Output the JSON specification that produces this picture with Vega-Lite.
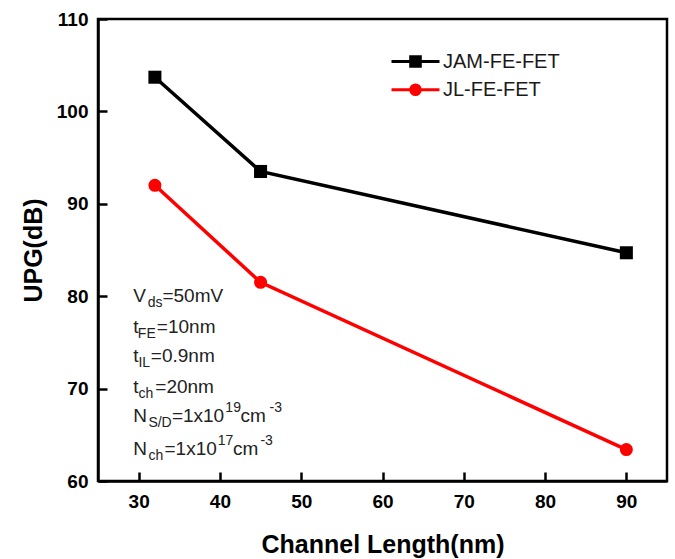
{
  "$schema": "https://vega.github.io/schema/vega-lite/v6.json",
  "width": 569,
  "height": 462,
  "autosize": {"type": "none"},
  "padding": {"left": 98, "top": 19, "right": 8, "bottom": 78},
  "background": "white",
  "config": {
    "view": {"stroke": "black", "strokeWidth": 2.5},
    "axis": {
      "domainColor": "black", "domainWidth": 2.5,
      "tickColor": "black", "tickWidth": 2.5, "tickSize": -9,
      "labelFont": "Liberation Sans", "labelFontWeight": "bold", "labelFontSize": 19, "labelColor": "black",
      "labelFlush": false, "labelOverlap": false,
      "titleFont": "Liberation Sans", "titleFontWeight": "bold", "titleFontSize": 25, "titleColor": "black",
      "grid": false
    },
    "axisX": {"labelPadding": 20, "titlePadding": 21},
    "axisY": {"labelPadding": 19, "titlePadding": 10},
    "legend": {
      "orient": "none", "legendX": 292, "legendY": 29.5, "title": null, "padding": 0,
      "labelFont": "Liberation Sans", "labelFontSize": 20, "labelColor": "#1a1a1a",
      "symbolSize": 2304, "symbolStrokeWidth": 3, "labelOffset": 2,
      "clipHeight": 26, "rowPadding": 2.3
    }
  },
  "datasets": {
    "upg": [
      {"series": "JAM-FE-FET", "L": 32, "UPG": 103.7},
      {"series": "JAM-FE-FET", "L": 45, "UPG": 93.5},
      {"series": "JAM-FE-FET", "L": 90, "UPG": 84.7},
      {"series": "JL-FE-FET", "L": 32, "UPG": 92.0},
      {"series": "JL-FE-FET", "L": 45, "UPG": 81.5},
      {"series": "JL-FE-FET", "L": 90, "UPG": 63.4}
    ],
    "notes": [
      {"txt": "V", "kind": "main", "x": 29.35, "y": 80.0},
      {"txt": "ds", "kind": "sub", "x": 31.13, "y": 80.0},
      {"txt": "=50mV", "kind": "main", "x": 32.93, "y": 80.0},
      {"txt": "t", "kind": "main", "x": 29.35, "y": 76.7},
      {"txt": "FE", "kind": "sub", "x": 29.9, "y": 76.7},
      {"txt": "=10nm", "kind": "main", "x": 32.24, "y": 76.7},
      {"txt": "t", "kind": "main", "x": 29.35, "y": 73.5},
      {"txt": "IL", "kind": "sub", "x": 29.97, "y": 73.5},
      {"txt": "=0.9nm", "kind": "main", "x": 31.5, "y": 73.5},
      {"txt": "t", "kind": "main", "x": 29.35, "y": 70.2},
      {"txt": "ch", "kind": "sub", "x": 29.97, "y": 70.2},
      {"txt": "=20nm", "kind": "main", "x": 32.05, "y": 70.2},
      {"txt": "N", "kind": "main", "x": 29.35, "y": 67.0},
      {"txt": "S/D", "kind": "sub", "x": 31.2, "y": 67.0},
      {"txt": "=1x10", "kind": "main", "x": 34.09, "y": 67.0},
      {"txt": "19", "kind": "sup", "x": 40.67, "y": 67.0},
      {"txt": "cm", "kind": "main", "x": 42.52, "y": 67.0},
      {"txt": "-3", "kind": "sup", "x": 46.1, "y": 67.0},
      {"txt": "N", "kind": "main", "x": 29.35, "y": 63.5},
      {"txt": "ch", "kind": "sub", "x": 31.2, "y": 63.5},
      {"txt": "=1x10", "kind": "main", "x": 33.18, "y": 63.5},
      {"txt": "17", "kind": "sup", "x": 39.72, "y": 63.5},
      {"txt": "cm", "kind": "main", "x": 41.6, "y": 63.5},
      {"txt": "-3", "kind": "sup", "x": 44.98, "y": 63.5}
    ]
  },
  "layer": [
    {
      "data": {"name": "upg"},
      "mark": {"type": "line", "strokeWidth": 3.5},
      "encoding": {
        "x": {"field": "L", "type": "quantitative", "title": "Channel Length(nm)", "scale": {"domain": [25, 95], "nice": false, "zero": false}, "axis": {"values": [30, 40, 50, 60, 70, 80, 90]}},
        "y": {"field": "UPG", "type": "quantitative", "title": "UPG(dB)", "scale": {"domain": [60, 110], "nice": false, "zero": false}, "axis": {"values": [60, 70, 80, 90, 100, 110]}},
        "color": {
          "field": "series", "type": "nominal", "title": null,
          "scale": {"domain": ["JAM-FE-FET", "JL-FE-FET"], "range": ["#000000", "#ff0000"]},
          "legend": {
            "encode": {
              "symbols": {
                "update": {
                  "shape": {"signal": "datum.value === 'JAM-FE-FET' ? 'M-1,0H1M-0.2,-0.2H0.2V0.2H-0.2Z' : 'M-1,0H1M0.2,0A0.2,0.2 0 1,1 -0.2,0A0.2,0.2 0 1,1 0.2,0Z'"},
                  "stroke": {"signal": "datum.value === 'JAM-FE-FET' ? '#000000' : '#ff0000'"},
                  "fill": {"signal": "datum.value === 'JAM-FE-FET' ? '#000000' : '#ff0000'"},
                  "strokeWidth": {"value": 3},
                  "opacity": {"value": 1}
                }
              }
            }
          }
        }
      }
    },
    {
      "data": {"name": "upg"},
      "transform": [{"filter": "datum.series === 'JAM-FE-FET'"}],
      "mark": {"type": "point", "shape": "square", "filled": true, "opacity": 1, "size": 170},
      "encoding": {
        "x": {"field": "L", "type": "quantitative", "title": "Channel Length(nm)", "scale": {"domain": [25, 95], "nice": false, "zero": false}},
        "y": {"field": "UPG", "type": "quantitative", "title": "UPG(dB)", "scale": {"domain": [60, 110], "nice": false, "zero": false}},
        "color": {"field": "series", "type": "nominal", "title": null, "scale": {"domain": ["JAM-FE-FET", "JL-FE-FET"], "range": ["#000000", "#ff0000"]}}
      }
    },
    {
      "data": {"name": "upg"},
      "transform": [{"filter": "datum.series === 'JL-FE-FET'"}],
      "mark": {"type": "point", "shape": "circle", "filled": true, "opacity": 1, "size": 170},
      "encoding": {
        "x": {"field": "L", "type": "quantitative", "title": "Channel Length(nm)", "scale": {"domain": [25, 95], "nice": false, "zero": false}},
        "y": {"field": "UPG", "type": "quantitative", "title": "UPG(dB)", "scale": {"domain": [60, 110], "nice": false, "zero": false}},
        "color": {"field": "series", "type": "nominal", "title": null, "scale": {"domain": ["JAM-FE-FET", "JL-FE-FET"], "range": ["#000000", "#ff0000"]}}
      }
    },
    {
      "data": {"name": "notes"},
      "transform": [{"filter": "datum.kind === 'main'"}],
      "mark": {"type": "text", "align": "left", "baseline": "middle", "font": "Liberation Sans", "fontSize": 19, "color": "#222222"},
      "encoding": {
        "x": {"field": "x", "type": "quantitative", "title": "Channel Length(nm)", "scale": {"domain": [25, 95], "nice": false, "zero": false}},
        "y": {"field": "y", "type": "quantitative", "title": "UPG(dB)", "scale": {"domain": [60, 110], "nice": false, "zero": false}},
        "text": {"field": "txt"}
      }
    },
    {
      "data": {"name": "notes"},
      "transform": [{"filter": "datum.kind === 'sub'"}],
      "mark": {"type": "text", "align": "left", "baseline": "middle", "font": "Liberation Sans", "fontSize": 14, "dy": 7, "color": "#222222"},
      "encoding": {
        "x": {"field": "x", "type": "quantitative", "title": "Channel Length(nm)", "scale": {"domain": [25, 95], "nice": false, "zero": false}},
        "y": {"field": "y", "type": "quantitative", "title": "UPG(dB)", "scale": {"domain": [60, 110], "nice": false, "zero": false}},
        "text": {"field": "txt"}
      }
    },
    {
      "data": {"name": "notes"},
      "transform": [{"filter": "datum.kind === 'sup'"}],
      "mark": {"type": "text", "align": "left", "baseline": "middle", "font": "Liberation Sans", "fontSize": 14, "dy": -8, "color": "#222222"},
      "encoding": {
        "x": {"field": "x", "type": "quantitative", "title": "Channel Length(nm)", "scale": {"domain": [25, 95], "nice": false, "zero": false}},
        "y": {"field": "y", "type": "quantitative", "title": "UPG(dB)", "scale": {"domain": [60, 110], "nice": false, "zero": false}},
        "text": {"field": "txt"}
      }
    }
  ]
}
